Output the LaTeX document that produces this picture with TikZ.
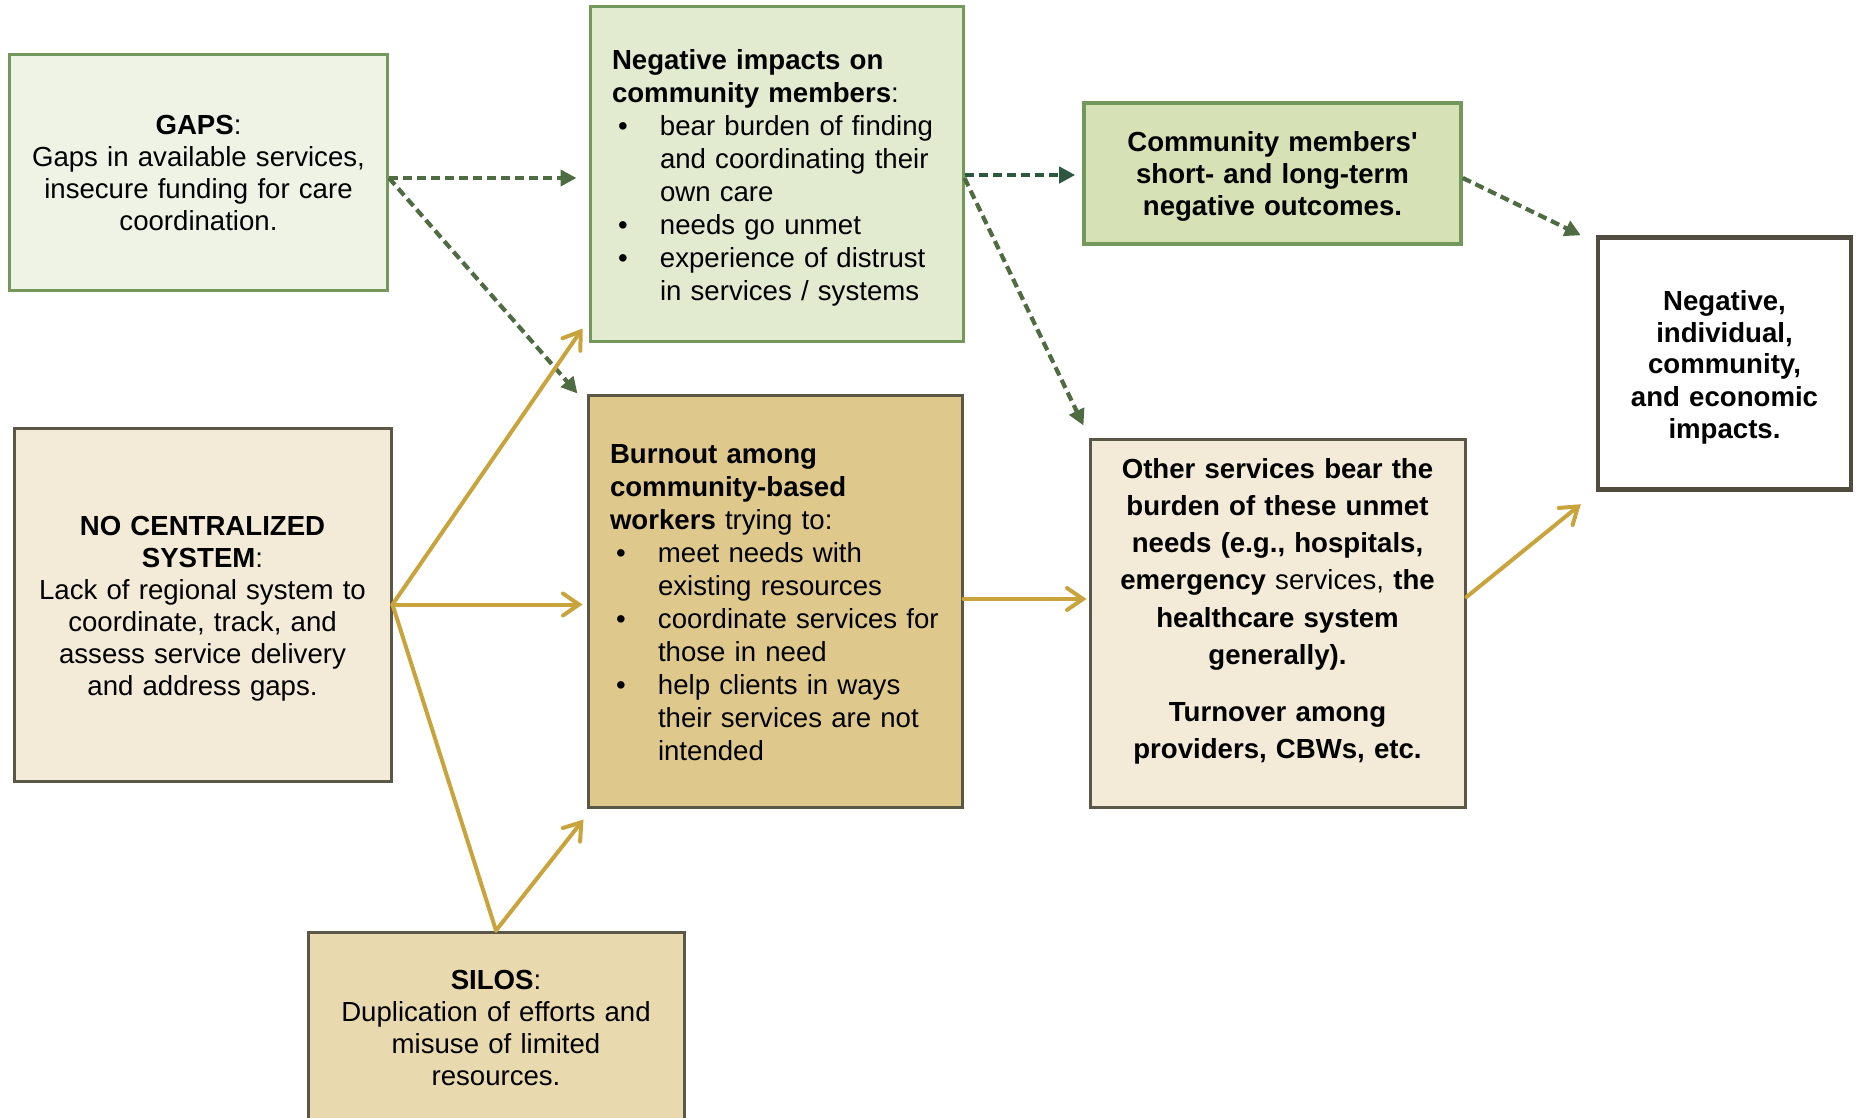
\documentclass[tikz,border=0pt]{standalone}
\usepackage{fontspec}
\setmainfont{Liberation Sans}[Ligatures=TeXOff]
\usetikzlibrary{arrows.meta}

\definecolor{gapsfill}{HTML}{EFF3E6}
\definecolor{negfill}{HTML}{E2EACF}
\definecolor{outcfill}{HTML}{D6E2B6}
\definecolor{greenline}{HTML}{74975B}
\definecolor{arrgreen}{HTML}{4F6B42}
\definecolor{dkgreen}{HTML}{2E5740}
\definecolor{goldline}{HTML}{C9A43C}
\definecolor{tanline}{HTML}{5B5747}
\definecolor{nocentfill}{HTML}{F3EAD7}
\definecolor{burnfill}{HTML}{DEC88C}
\definecolor{silosfill}{HTML}{E8D9AF}
\definecolor{impactline}{HTML}{504C40}

\newcommand{\dotitem}[1]{\par\noindent\hangindent=24pt\hangafter=1\makebox[24pt][l]{\hspace{3pt}\textbullet}#1\par}

\tikzset{
  box/.style={draw, line width=1.5pt, inner xsep=4pt, inner ysep=0pt, align=center,
    font=\fontsize{13.8}{16}\selectfont},
  struts/.style={execute at begin node={\rule{0pt}{13.5pt}}, execute at end node={\rule[-3pt]{0pt}{3pt}}},
  greenbox/.style={box, struts, draw=greenline},
  tanbox/.style={box, struts, draw=tanline},
  listbox/.style={box, inner xsep=8pt, align=left, font=\fontsize{13.8}{16.5}\selectfont},
  dasharrow/.style={draw=arrgreen, line width=2.1pt, dash pattern=on 4.5pt off 2.5pt,
    -{Triangle[length=8pt,width=8pt]}},
  goldarrow/.style={draw=goldline, line width=2pt, line cap=round,
    -{Straight Barb[length=8pt,width=11pt,line cap=round]}},
  goldlink/.style={draw=goldline, line width=2pt, line cap=round},
}

\begin{document}
\begin{tikzpicture}[x=0.5pt,y=-0.5pt]
\useasboundingbox (0,0) rectangle (1857,1118);
\clip (0,0) rectangle (1857,1118);

\node[greenbox, fill=gapsfill, minimum width=189pt, minimum height=117.5pt, text width=181pt]
  (gaps) at (198.5,172.5) {\textbf{GAPS}:\\Gaps in available services,\\insecure funding for care\\coordination.};
\node[listbox, draw=greenline, fill=negfill, minimum width=186.5pt, minimum height=167pt, text width=170.5pt]
  (neg) at (776.5,174) {\rule{0pt}{13.5pt}\leftskip=3pt \textbf{Negative impacts on}\newline\textbf{community members}:
  \dotitem{bear burden of finding\newline and coordinating their\newline own care}
  \dotitem{needs go unmet}
  \dotitem{experience of distrust\newline in services / systems}};
\node[greenbox, line width=1.8pt, fill=outcfill, minimum width=188.5pt, minimum height=70.5pt, text width=180pt,
  font=\fontsize{13.8}{16}\selectfont\bfseries]
  (outc) at (1272.5,173.5) {Community members\symbol{39}\\short- and long-term\\negative outcomes.};
\node[box, struts, draw=impactline, line width=2.2pt, fill=white, minimum width=126.5pt, minimum height=126pt, text width=118pt,
  font=\fontsize{13.8}{16}\selectfont\bfseries]
  (impact) at (1724.5,363.5) {Negative,\\individual,\\community,\\and economic\\impacts.};
\node[tanbox, fill=nocentfill, minimum width=188.5pt, minimum height=176.5pt, text width=180pt]
  (nocent) at (202.5,604.5) {\textbf{NO CENTRALIZED}\\\textbf{SYSTEM}:\\Lack of regional system to\\coordinate, track, and\\assess service delivery\\and address gaps.};
\node[listbox, draw=tanline, fill=burnfill, minimum width=187pt, minimum height=206pt, text width=171pt]
  (burnout) at (775,601) {\rule{0pt}{11pt}\leftskip=3pt \textbf{Burnout among}\newline\textbf{community-based}\newline\textbf{workers} trying to:
  \dotitem{meet needs with\newline existing resources}
  \dotitem{coordinate services for\newline those in need}
  \dotitem{help clients in ways\newline their services are not\newline intended}};
\node[tanbox, fill=nocentfill, minimum width=187.5pt, minimum height=184pt, text width=179pt,
  font=\fontsize{13.8}{18.6}\selectfont\bfseries]
  (other) at (1277.5,623) {Other services bear the\\burden of these unmet\\needs (e.g., hospitals,\\emergency \mdseries services, \bfseries the\\healthcare system\\generally).\\[10pt]Turnover among\\providers, CBWs, etc.\rule[-18pt]{0pt}{18pt}};
\node[tanbox, fill=silosfill, minimum width=188pt, minimum height=95pt, text width=180pt]
  (silos) at (496,1027) {\textbf{SILOS}:\\Duplication of efforts and\\misuse of limited\\resources.};

\draw[dasharrow] ([yshift=-2.75pt]gaps.east) -- ([xshift=-6pt,yshift=-2pt]neg.west);
\draw[dasharrow] ([yshift=-2.75pt]gaps.east) -- ([xshift=-4.5pt]burnout.north west);
\draw[dasharrow, draw=dkgreen] ([yshift=-0.5pt]neg.east) -- ([xshift=-3.5pt,yshift=-0.75pt]outc.west);
\draw[dasharrow] ([yshift=-2pt]neg.east) -- ([xshift=-2.5pt,yshift=6pt]other.north west);
\draw[dasharrow] ([yshift=-2.25pt]outc.east) -- ([xshift=-7.5pt]impact.north west);

\draw[goldarrow] (nocent.east) -- ([xshift=-3pt,yshift=7pt]neg.south west);
\draw[goldarrow, shorten >=2pt] (nocent.east) -- (nocent.east -| burnout.west);
\draw[goldlink] (nocent.east) -- (silos.north);
\draw[goldarrow] (silos.north) -- ([xshift=-1.5pt,yshift=-5.5pt]burnout.south west);
\draw[goldarrow, shorten >=1pt] ([yshift=1pt]burnout.east) -- ([yshift=1pt]burnout.east -| other.west);
\draw[goldarrow] ([yshift=13pt]other.east) -- ([xshift=-7.5pt,yshift=-6.25pt]impact.south west);
\end{tikzpicture}
\end{document}
